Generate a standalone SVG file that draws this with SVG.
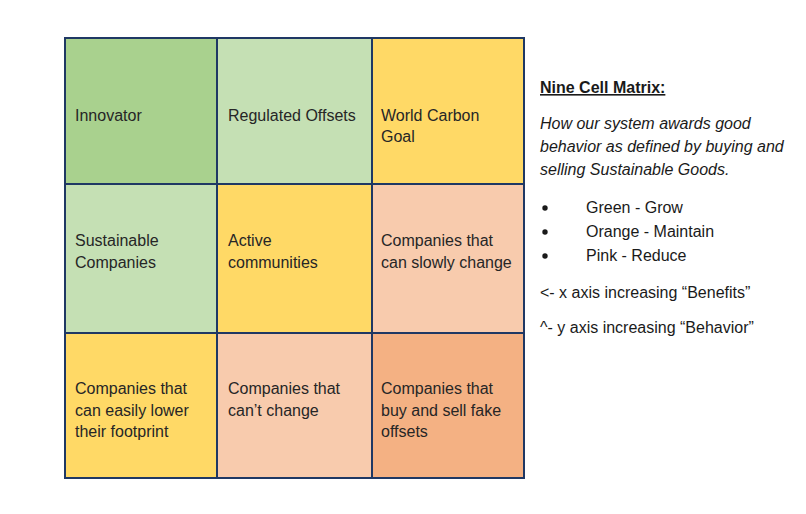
<svg xmlns="http://www.w3.org/2000/svg" width="806" height="514" viewBox="0 0 806 514">
<style>
.cell{stroke:#1F3864;stroke-width:2}
.t{font-family:"Liberation Sans",Arial,sans-serif;font-size:16px;fill:#262626}
.r{font-family:"Liberation Sans",Arial,sans-serif;font-size:16px;fill:#1a1a1a}
.i{font-style:italic}
.g1{fill:#A9D18E}.g2{fill:#C5E0B4}.y{fill:#FFD966}.p1{fill:#F8CBAD}.p2{fill:#F4B183}
</style>
<rect width="806" height="514" fill="#ffffff"/>
<g id="cell-innovator"><rect class="cell g1" x="65" y="38" width="152" height="146"/><text class="t" x="75" y="121">Innovator</text></g>
<g id="cell-regulated-offsets"><rect class="cell g2" x="217" y="38" width="155" height="146"/><text class="t" x="228" y="121">Regulated Offsets</text></g>
<g id="cell-world-carbon-goal"><rect class="cell y" x="372" y="38" width="152" height="146"/><text class="t" x="381" y="121">World Carbon</text><text class="t" x="381" y="142">Goal</text></g>
<g id="cell-sustainable-companies"><rect class="cell g2" x="65" y="184" width="152" height="149"/><text class="t" x="75" y="246">Sustainable</text><text class="t" x="75" y="268">Companies</text></g>
<g id="cell-active-communities"><rect class="cell y" x="217" y="184" width="155" height="149"/><text class="t" x="228" y="246">Active</text><text class="t" x="228" y="268">communities</text></g>
<g id="cell-slowly-change"><rect class="cell p1" x="372" y="184" width="152" height="149"/><text class="t" x="381" y="246">Companies that</text><text class="t" x="381" y="268">can slowly change</text></g>
<g id="cell-easily-lower"><rect class="cell y" x="65" y="333" width="152" height="145"/><text class="t" x="75" y="394">Companies that</text><text class="t" x="75" y="416">can easily lower</text><text class="t" x="75" y="437">their footprint</text></g>
<g id="cell-cant-change"><rect class="cell p1" x="217" y="333" width="155" height="145"/><text class="t" x="228" y="394">Companies that</text><text class="t" x="228" y="416">can’t change</text></g>
<g id="cell-fake-offsets"><rect class="cell p2" x="372" y="333" width="152" height="145"/><text class="t" x="381" y="394">Companies that</text><text class="t" x="381" y="416">buy and sell fake</text><text class="t" x="381" y="437">offsets</text></g>
<g id="legend">
<text class="r" x="540" y="93" font-size="17px" font-weight="bold" text-decoration="underline">Nine Cell Matrix:</text>
<text class="r i" x="540" y="129">How our system awards good</text>
<text class="r i" x="540" y="152">behavior as defined by buying and</text>
<text class="r i" x="540" y="175">selling Sustainable Goods.</text>
<circle cx="545" cy="208" r="2.7" fill="#1a1a1a"/><text class="r" x="586" y="213">Green - Grow</text>
<circle cx="545" cy="232" r="2.7" fill="#1a1a1a"/><text class="r" x="586" y="237">Orange - Maintain</text>
<circle cx="545" cy="256" r="2.7" fill="#1a1a1a"/><text class="r" x="586" y="261">Pink - Reduce</text>
<text class="r" x="540" y="298">&lt;- x axis increasing “Benefits”</text>
<text class="r" x="540" y="333">^- y axis increasing “Behavior”</text>
</g>
</svg>
